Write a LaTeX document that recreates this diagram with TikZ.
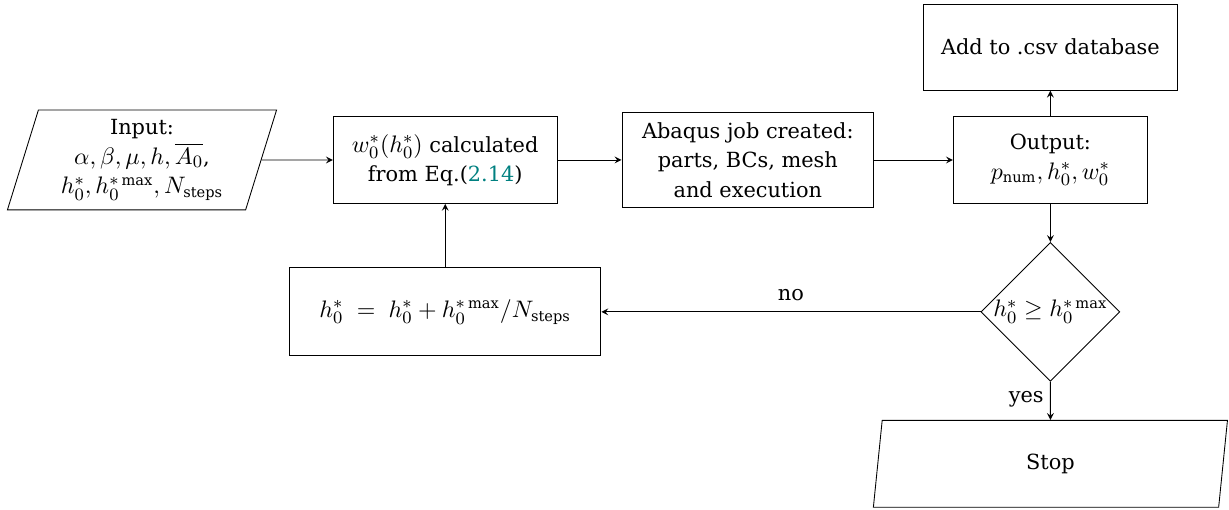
\documentclass[tikz,border=0pt]{standalone}
\usepackage{amsmath}
\usepackage{fontspec}
\setmainfont{DejaVu Serif}[Scale=0.87]
\usetikzlibrary{shapes.geometric}
\definecolor{eqverweis}{RGB}{0,128,128}

\begin{document}
\begin{tikzpicture}[
    font=\fontsize{11}{13.5}\selectfont,
    box/.style={draw, minimum width=3.61cm, minimum height=1.4cm, align=center, inner sep=2pt},
    inout/.style={draw, trapezium, trapezium left angle=70, trapezium right angle=110,
      trapezium stretches body, align=center, inner sep=1pt},
    raute/.style={draw, diamond, aspect=1, inner sep=0pt, minimum size=2.24cm},
    pfeil/.style={-stealth}
  ]
  \useasboundingbox (0,0) rectangle (19.82,-8.21);
  % obere Reihe
  \node[inout, minimum width=4.34cm, minimum height=1.61cm] (input) at (2.29,-2.58)
    {Input:\\ $\alpha, \beta, \mu, h, \overline{A_0}$,\\ $h_0^*, h_0^{*\max}, N_{\text{steps}}$};
  \node[box] (wnull) at (7.18,-2.58) {$w_0^*(h_0^*)$ calculated\\ from Eq.(\textcolor{eqverweis}{2.14})};
  \node[box, minimum width=4.06cm, minimum height=1.53cm] (abaqus) at (12.06,-2.58)
    {Abaqus job created:\\ parts, BCs, mesh\\ and execution};
  \node[box, minimum width=3.13cm] (output) at (16.94,-2.58) {Output:\\ $p_{\mathrm{num}}, h_0^*, w_0^*$};
  \node[box, minimum width=4.1cm, minimum height=1.39cm] (csv) at (16.94,-0.76) {Add to .csv database};
  % Schleife
  \node[raute] (abfrage) at (16.94,-5.03) {$h_0^* \geq h_0^{*\max}$};
  \node[box, minimum width=5.02cm, minimum height=1.42cm] (update) at (7.18,-5.03)
    {$h_0^* \;=\; h_0^* + h_0^{*\max}/N_{\text{steps}}$};
  \node[inout, minimum width=5.71cm, minimum height=1.4cm] (stop) at (16.94,-7.48) {Stop};
  % Verbindungen
  \draw[pfeil] (input) -- (wnull);
  \draw[pfeil] (wnull) -- (abaqus);
  \draw[pfeil] (abaqus) -- (output);
  \draw[pfeil] (output) -- (csv);
  \draw[pfeil] (output) -- (abfrage);
  \draw[pfeil] (abfrage) -- node[above=2pt] {no} (update);
  \draw[pfeil] (update) -- (wnull);
  \draw[pfeil] (abfrage) -- node[left, pos=0.45] {yes} (stop);
\end{tikzpicture}
\end{document}
